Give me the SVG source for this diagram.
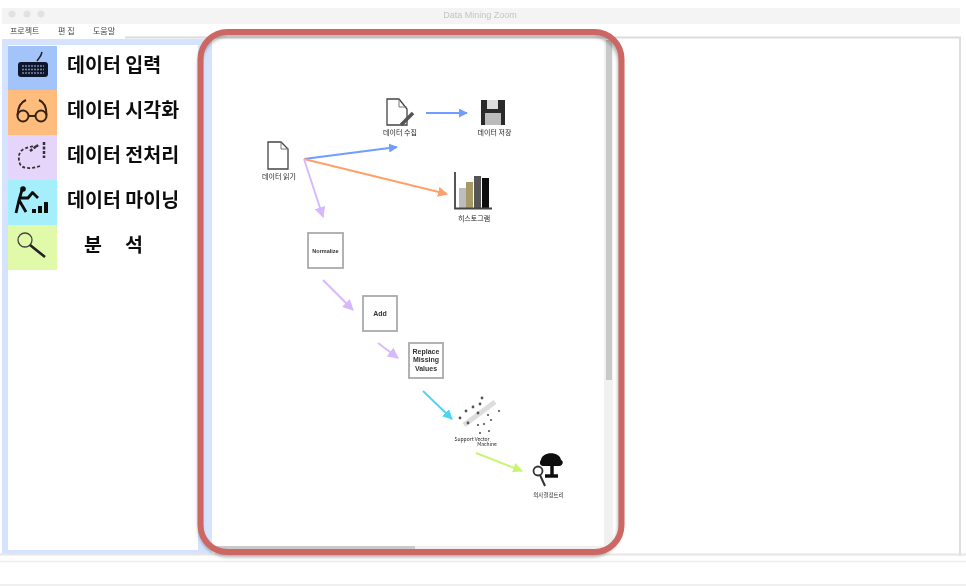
<svg xmlns="http://www.w3.org/2000/svg" width="966" height="588" viewBox="0 0 966 588">
<style>
.k{font-family:"Liberation Sans","Noto Sans CJK KR",sans-serif}
.side{font-size:19.500px;font-weight:700;fill:#111;font-family:"Noto Sans CJK KR",sans-serif}
.menu{font-size:8px;fill:#444;font-family:"Noto Sans CJK KR",sans-serif}
.cap{font-size:7px;fill:#222;text-anchor:middle;font-family:"Noto Sans CJK KR",sans-serif}
.box{fill:#fff;stroke:#aaa;stroke-width:1.800}
.bt{font-size:7px;font-weight:700;fill:#333;text-anchor:middle;font-family:"Liberation Sans",sans-serif}
.doc{fill:#fff;stroke:#444;stroke-width:1.300}
.c{fill:none;stroke-width:1.900}
</style>
<defs>
<filter id="soft" x="-5%" y="-5%" width="110%" height="110%"><feGaussianBlur stdDeviation="0.75"/></filter>
<filter id="shadow" x="-5%" y="-5%" width="110%" height="110%"><feGaussianBlur stdDeviation="1.600"/></filter>
<marker id="ab" viewBox="0 0 10 10" refX="9" refY="5" markerWidth="9" markerHeight="9" orient="auto" markerUnits="userSpaceOnUse"><path d="M0 0L10 5L0 10Z" fill="#6f9dff"/></marker>
<marker id="ao" viewBox="0 0 10 10" refX="9" refY="5" markerWidth="10" markerHeight="10" orient="auto" markerUnits="userSpaceOnUse"><path d="M0 0L10 5L0 10Z" fill="#ff9f6b"/></marker>
<marker id="ap" viewBox="0 0 10 10" refX="9" refY="5" markerWidth="11" markerHeight="11" orient="auto" markerUnits="userSpaceOnUse"><path d="M0 0L10 5L0 10Z" fill="#d6b8ff"/></marker>
<marker id="ac" viewBox="0 0 10 10" refX="9" refY="5" markerWidth="10" markerHeight="10" orient="auto" markerUnits="userSpaceOnUse"><path d="M0 0L10 5L0 10Z" fill="#4fd4ef"/></marker>
<marker id="ag" viewBox="0 0 10 10" refX="9" refY="5" markerWidth="10" markerHeight="10" orient="auto" markerUnits="userSpaceOnUse"><path d="M0 0L10 5L0 10Z" fill="#c9f56e"/></marker>
</defs>
<rect width="966" height="588" fill="#fff"/>
<g filter="url(#soft)">
<g id="window">
<rect x="2" y="8" width="958" height="16" fill="#f4f4f4"/>
<circle cx="12" cy="14" r="3.500" fill="#e2e2e2"/><circle cx="27" cy="14" r="3.500" fill="#e2e2e2"/><circle cx="41" cy="14" r="3.500" fill="#e2e2e2"/>
<text class="k" x="480" y="18" font-size="9" fill="#c4c4c4" text-anchor="middle">Data Mining Zoom</text>
<text class="menu" x="10" y="34">프로젝트</text><text class="menu" x="58" y="34">편 집</text><text class="menu" x="93" y="34">도움말</text>
<rect x="2" y="39" width="958" height="518" fill="#fff"/>
<path d="M125 37.500H960V556" fill="none" stroke="#dcdcdc" stroke-width="2"/>
<rect x="2" y="39" width="210" height="515" fill="#d6e3ff"/>
<rect x="8" y="45" width="190" height="505" fill="#fff"/>
<path d="M0 554.500H966" stroke="#e6e6e6" stroke-width="2"/>
<path d="M0 561.500H966M0 585H966" stroke="#ececec" stroke-width="1.500"/>
<rect x="212" y="40" width="394" height="508" fill="#fff"/>
<rect x="604" y="40" width="9" height="508" fill="#f1f1f1"/>
<rect x="606" y="40" width="6" height="340" fill="#c9c9c9"/>
<rect x="212" y="546" width="392" height="5" fill="#f0f0f0"/>
<rect x="214" y="546" width="201" height="4" fill="#c9c9c9"/>
</g>

<g id="tool-input">
<rect x="8" y="46" width="49" height="44" fill="#a3c4fb"/>
<path d="M37 61C39 58 41 57 42 52" fill="none" stroke="#222" stroke-width="1.500"/>
<rect x="18" y="62" width="30" height="15" rx="3" fill="#10182c"/>
<path d="M22 66H44M22 69.500H44M22 73H44" stroke="#7788aa" stroke-width="1.500" stroke-dasharray="2 1"/>
<text class="side" x="67" y="72">데이터 입력</text>
</g>
<g id="tool-visual">
<rect x="8" y="90" width="49" height="45" fill="#ffbd7d"/>
<g fill="none" stroke="#3a2410" stroke-width="2"><circle cx="23" cy="116" r="5.500"/><circle cx="41" cy="116" r="5.500"/><path d="M29 116H35M17.500 115C18 107 21 102 26 100M46.500 115C46.500 107 44 102 39 100"/></g>
<text class="side" x="67" y="117">데이터 시각화</text>
</g>
<g id="tool-preprocess">
<rect x="8" y="135" width="49" height="45" fill="#e6d5fb"/>
<path d="M40 166C32 169 22 169 20 164C18 158 18 152 24 149C30 146 36 146 40 146" fill="none" stroke="#333" stroke-width="1.800" stroke-dasharray="3 2"/>
<path d="M30 151L38 145M44 142L44 158" stroke="#333" stroke-width="2.500" stroke-dasharray="3 1.500"/>
<text class="side" x="67" y="162">데이터 전처리</text>
</g>
<g id="tool-mining">
<rect x="8" y="180" width="49" height="45" fill="#a5eefc"/>
<path d="M22 190L19 200L16 213M19 200L26 212M19 198L28 198L33 192M32 192L38 198" fill="none" stroke="#0a0a0a" stroke-width="2.800"/>
<circle cx="23" cy="189" r="2.800" fill="#0a0a0a"/>
<path d="M32 213V209H36V213ZM38 213V206H42V213ZM44 213V202H48V213Z" fill="#111"/>
<text class="side" x="67" y="207">데이터 마이닝</text>
</g>
<g id="tool-analysis">
<rect x="8" y="225" width="49" height="45" fill="#e0faa9"/>
<circle cx="25" cy="240" r="7" fill="none" stroke="#444" stroke-width="1.300"/>
<path d="M30 245L45 257" stroke="#222" stroke-width="2.600"/>
<text class="side" x="84" y="252">분</text><text class="side" x="125" y="252">석</text>
</g>

<g id="connectors">
<path class="c" d="M304 159L397 147" stroke="#6f9dff" marker-end="url(#ab)"/>
<path class="c" d="M304 159L447 194" stroke="#ff9f6b" marker-end="url(#ao)"/>
<path class="c" d="M304 159L323 217" stroke="#d6b8ff" marker-end="url(#ap)"/>
<path class="c" d="M426 113L467 113" stroke="#6f9dff" marker-end="url(#ab)"/>
<path class="c" d="M323 280L353 310" stroke="#d6b8ff" marker-end="url(#ap)"/>
<path class="c" d="M378 343L398 358" stroke="#d6b8ff" marker-end="url(#ap)"/>
<path class="c" d="M423 391L452 419" stroke="#4fd4ef" marker-end="url(#ac)"/>
<path class="c" d="M476 453L522 471" stroke="#c9f56e" marker-end="url(#ag)"/>
</g>

<g id="node-read">
<path class="doc" d="M268 142H281L288 149V169H268Z"/><path d="M281 142V149H288" fill="none" stroke="#777"/>
<text class="cap" x="279" y="179">데이터 읽기</text>
</g>
<g id="node-collect">
<path class="doc" d="M387 99H399L407 109V125H387Z"/><path d="M399 99V107H407" fill="none" stroke="#777"/>
<path d="M401 125L413 113" stroke="#555" stroke-width="3.500"/>
<text class="cap" x="400" y="134.500">데이터 수집</text>
</g>
<g id="node-save">
<path d="M481 100H505V125H481Z" fill="#2c2c2c"/><rect x="487" y="100" width="11" height="9" fill="#ddd"/><rect x="485" y="113" width="16" height="12" fill="#bbb"/>
<text class="cap" x="494.500" y="134.500">데이터 저장</text>
</g>
<g id="node-histogram">
<rect x="459" y="188" width="7" height="20" fill="#bdbdbd"/><rect x="466" y="182" width="7" height="26" fill="#a89a66"/><rect x="474" y="176" width="7" height="32" fill="#555"/><rect x="482" y="178" width="7" height="30" fill="#111"/>
<path d="M455 172V208.500H492" fill="none" stroke="#444" stroke-width="1.800"/>
<text class="cap" x="474" y="220.500">히스토그램</text>
</g>
<g id="node-normalize">
<rect class="box" x="308" y="233" width="35" height="35"/>
<text class="bt" x="325.500" y="252.500" style="font-size:5.500px">Normalize</text>
</g>
<g id="node-add">
<rect class="box" x="363" y="296" width="34" height="35"/>
<text class="bt" x="380" y="315.500">Add</text>
</g>
<g id="node-replace">
<rect class="box" x="409" y="343" width="34" height="35"/>
<text class="bt" x="426" y="353.500">Replace</text><text class="bt" x="426" y="362">Missing</text><text class="bt" x="426" y="370.500">Values</text>
</g>
<g id="node-svm">
<path d="M464 425L495 402" stroke="#ddd" stroke-width="5"/>
<g fill="#555"><circle cx="482" cy="398" r="1.400"/><circle cx="480" cy="404" r="1.400"/><circle cx="473" cy="407" r="1.400"/><circle cx="466" cy="411" r="1.400"/><circle cx="478" cy="413" r="1.400"/><circle cx="460" cy="418" r="1.400"/><circle cx="468" cy="423" r="1.400"/><circle cx="488" cy="415" r="1.100"/><circle cx="491" cy="420" r="1.100"/><circle cx="499" cy="411" r="1.100"/><circle cx="478" cy="425" r="1.100"/><circle cx="484" cy="424" r="1.100"/><circle cx="489" cy="431" r="1.100"/><circle cx="480" cy="433" r="1.100"/></g>
<text class="cap" x="472" y="440.500" style="font-size:5px">Support Vector</text>
<text class="cap" x="487" y="446" style="font-size:5px">Machine</text>
</g>
<g id="node-tree">
<path d="M541 460C542 451 560 451 561 460C564 461 563 466 559 466H543C540 466 539 462 541 460Z" fill="#0a0a0a"/>
<path d="M552 465V476M545 476H558" stroke="#111" stroke-width="3.500"/>
<circle cx="538" cy="471" r="4.500" fill="none" stroke="#333" stroke-width="1.800"/>
<path d="M540 475L545 486" stroke="#333" stroke-width="2"/>
<text class="cap" x="548.500" y="496.500" style="font-size:5.500px">의사결정트리</text>
</g>
</g>
<g id="highlight">
<rect x="201" y="33" width="420" height="520" rx="28" fill="none" stroke="#555" stroke-opacity=".4" stroke-width="5" filter="url(#shadow)" transform="translate(-1 2)"/>
<rect x="200.500" y="32" width="421" height="520" rx="27" fill="none" stroke="#cc6763" stroke-width="6"/>
</g>
</svg>
